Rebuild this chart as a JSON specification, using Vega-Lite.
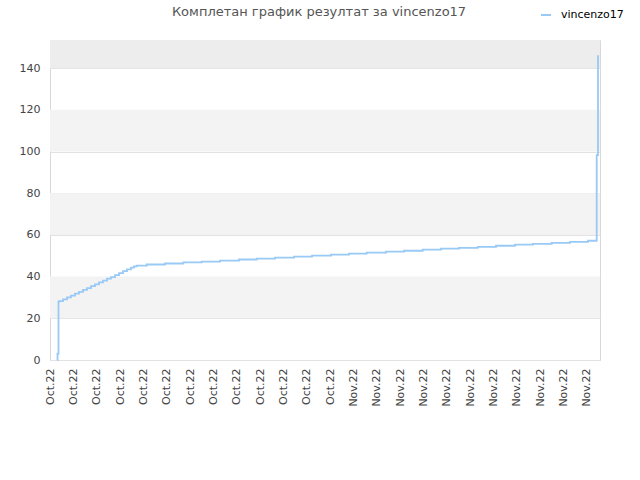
{
  "$schema": "https://vega.github.io/schema/vega-lite/v6.json",
  "width": 550,
  "height": 320,
  "autosize": "none",
  "padding": {"left": 50, "top": 40, "right": 40, "bottom": 120},
  "title": {
    "text": "Комплетан график резултат за vincenzo17",
    "font": "DejaVu Sans",
    "fontSize": 13,
    "fontWeight": "normal",
    "color": "#555555",
    "anchor": "middle",
    "frame": "group",
    "baseline": "alphabetic",
    "dx": -6,
    "offset": -20
  },
  "datasets": {
    "bands": [
      {"lo": 20, "hi": 40},
      {"lo": 60, "hi": 80},
      {"lo": 100, "hi": 120},
      {"lo": 140, "hi": 153.5}
    ],
    "score": [
      {"t": 0.300, "v": 0, "name": "vincenzo17"},
      {"t": 0.321, "v": 3, "name": "vincenzo17"},
      {"t": 0.364, "v": 28, "name": "vincenzo17"},
      {"t": 0.386, "v": 28.2, "name": "vincenzo17"},
      {"t": 0.557, "v": 29.1, "name": "vincenzo17"},
      {"t": 0.729, "v": 30.0, "name": "vincenzo17"},
      {"t": 0.900, "v": 30.9, "name": "vincenzo17"},
      {"t": 1.071, "v": 31.8, "name": "vincenzo17"},
      {"t": 1.243, "v": 32.7, "name": "vincenzo17"},
      {"t": 1.414, "v": 33.6, "name": "vincenzo17"},
      {"t": 1.586, "v": 34.5, "name": "vincenzo17"},
      {"t": 1.757, "v": 35.4, "name": "vincenzo17"},
      {"t": 1.929, "v": 36.3, "name": "vincenzo17"},
      {"t": 2.100, "v": 37.2, "name": "vincenzo17"},
      {"t": 2.271, "v": 38.1, "name": "vincenzo17"},
      {"t": 2.443, "v": 39.0, "name": "vincenzo17"},
      {"t": 2.614, "v": 39.8, "name": "vincenzo17"},
      {"t": 2.786, "v": 40.7, "name": "vincenzo17"},
      {"t": 2.957, "v": 41.7, "name": "vincenzo17"},
      {"t": 3.129, "v": 42.6, "name": "vincenzo17"},
      {"t": 3.300, "v": 43.5, "name": "vincenzo17"},
      {"t": 3.471, "v": 44.3, "name": "vincenzo17"},
      {"t": 3.600, "v": 44.9, "name": "vincenzo17"},
      {"t": 3.716, "v": 45.3, "name": "vincenzo17"},
      {"t": 4.144, "v": 45.8, "name": "vincenzo17"},
      {"t": 4.929, "v": 46.3, "name": "vincenzo17"},
      {"t": 5.713, "v": 46.8, "name": "vincenzo17"},
      {"t": 6.501, "v": 47.2, "name": "vincenzo17"},
      {"t": 7.286, "v": 47.7, "name": "vincenzo17"},
      {"t": 8.100, "v": 48.2, "name": "vincenzo17"},
      {"t": 8.859, "v": 48.6, "name": "vincenzo17"},
      {"t": 9.643, "v": 49.1, "name": "vincenzo17"},
      {"t": 10.457, "v": 49.6, "name": "vincenzo17"},
      {"t": 11.229, "v": 50.1, "name": "vincenzo17"},
      {"t": 12.043, "v": 50.5, "name": "vincenzo17"},
      {"t": 12.814, "v": 51.0, "name": "vincenzo17"},
      {"t": 13.573, "v": 51.5, "name": "vincenzo17"},
      {"t": 14.400, "v": 52.0, "name": "vincenzo17"},
      {"t": 15.171, "v": 52.4, "name": "vincenzo17"},
      {"t": 15.973, "v": 52.9, "name": "vincenzo17"},
      {"t": 16.757, "v": 53.4, "name": "vincenzo17"},
      {"t": 17.529, "v": 53.8, "name": "vincenzo17"},
      {"t": 18.330, "v": 54.3, "name": "vincenzo17"},
      {"t": 19.114, "v": 54.8, "name": "vincenzo17"},
      {"t": 19.929, "v": 55.3, "name": "vincenzo17"},
      {"t": 20.700, "v": 55.7, "name": "vincenzo17"},
      {"t": 21.501, "v": 56.2, "name": "vincenzo17"},
      {"t": 22.286, "v": 56.7, "name": "vincenzo17"},
      {"t": 23.057, "v": 57.2, "name": "vincenzo17"},
      {"t": 23.430, "v": 98.3, "name": "vincenzo17"},
      {"t": 23.486, "v": 146.2, "name": "vincenzo17"}
    ]
  },
  "layer": [
    {
      "data": {"name": "bands"},
      "mark": {"type": "rect", "strokeWidth": 0},
      "encoding": {
        "y": {
          "field": "lo",
          "type": "quantitative",
          "scale": {"domain": [0, 153.5], "nice": false, "zero": true},
          "axis": {
            "values": [0, 20, 40, 60, 80, 100, 120, 140],
            "labelFont": "DejaVu Sans",
            "labelFontSize": 11,
            "labelColor": "#444444",
            "labelPadding": 10,
            "ticks": false,
            "domain": false,
            "grid": true,
            "gridColor": "#e2e2e2",
            "title": null
          }
        },
        "y2": {"field": "hi"},
        "fill": {
          "condition": {"test": "datum.hi > 150", "value": "#ededed"},
          "value": "#f3f3f3"
        }
      }
    },
    {
      "data": {"name": "score"},
      "mark": {"type": "line", "interpolate": "step-after", "strokeWidth": 1.8},
      "encoding": {
        "x": {
          "field": "t",
          "type": "quantitative",
          "scale": {"domain": [0, 23.5714], "nice": false, "zero": false},
          "axis": {
            "values": [0, 1, 2, 3, 4, 5, 6, 7, 8, 9, 10, 11, 12, 13, 14, 15, 16, 17, 18, 19, 20, 21, 22, 23],
            "labelExpr": "datum.value < 12.5 ? 'Oct.22' : 'Nov.22'",
            "labelAngle": -90,
            "labelFont": "DejaVu Sans",
            "labelFontSize": 11,
            "labelColor": "#444444",
            "labelPadding": 8,
            "ticks": false,
            "domain": false,
            "grid": false,
            "title": null
          }
        },
        "y": {"field": "v", "type": "quantitative"},
        "color": {
          "field": "name",
          "type": "nominal",
          "scale": {"range": ["#99c9f5"]},
          "legend": {
            "title": null,
            "orient": "none",
            "legendX": 490,
            "legendY": -31,
            "symbolType": "stroke",
            "symbolSize": 100,
            "symbolStrokeWidth": 2,
            "labelFont": "DejaVu Sans",
            "labelFontSize": 11,
            "labelColor": "#000000",
            "labelOffset": 9
          }
        }
      }
    }
  ],
  "config": {
    "view": {"stroke": "#d8d8d8", "strokeWidth": 1},
    "background": "#ffffff"
  }
}
